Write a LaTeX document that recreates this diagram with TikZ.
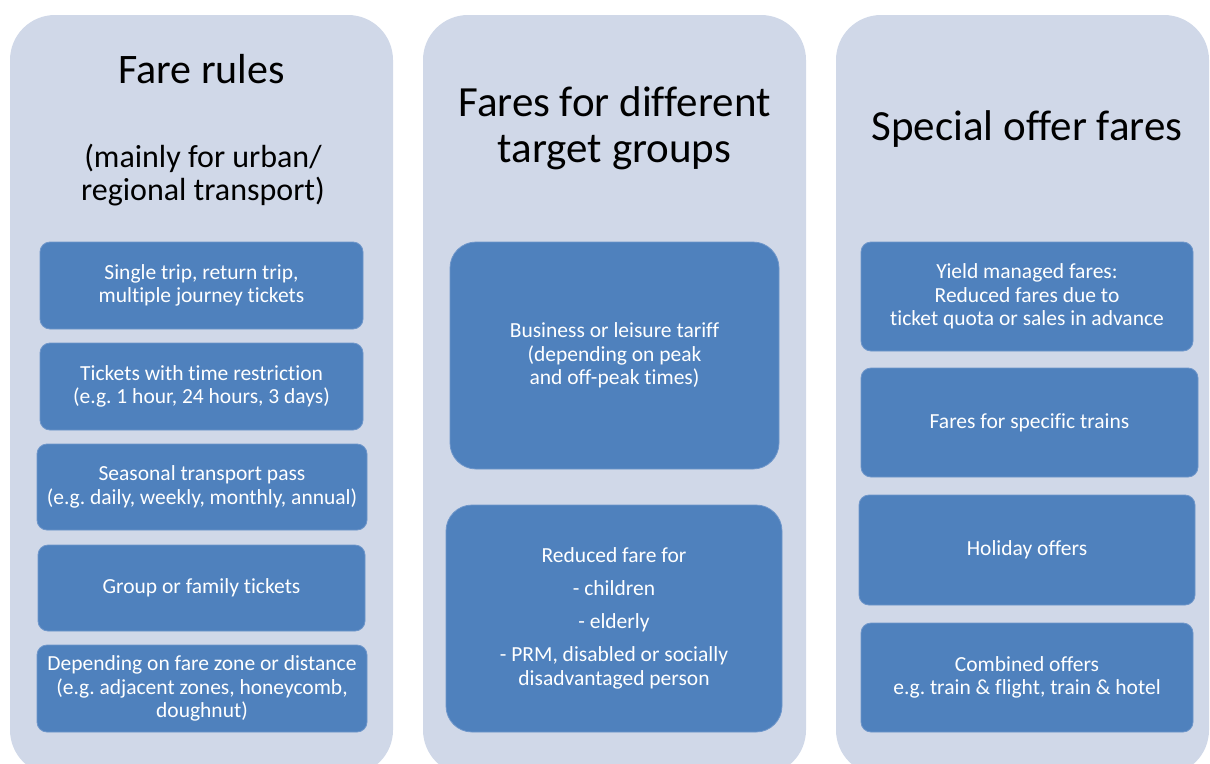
\documentclass[tikz,border=0pt]{standalone}
\usepackage{fontspec}
\setmainfont{Carlito}[Ligatures=NoCommon]
\frenchspacing
\definecolor{colbg}{RGB}{208,216,232}
\definecolor{boxfill}{RGB}{79,129,189}
\definecolor{boxline}{RGB}{110,150,202}
\begin{document}
\begin{tikzpicture}[x=1pt,y=-1pt,
  column/.style={fill=colbg, rounded corners=45pt, inner sep=0pt},
  itembox/.style={rectangle, fill=boxfill, draw=boxline, line width=0.8pt, rounded corners=10pt,
    inner sep=0pt, align=center, text=white, font=\fontsize{21.5}{23.6}\selectfont},
  bigbox/.style={itembox, rounded corners=26pt},
  title/.style={align=center, text=black, inner sep=0pt}
]
\useasboundingbox (0,0) rectangle (1210,763);
\begin{scope}
\clip (0,0) rectangle (1210,763);
\node[column, minimum width=383pt, minimum height=760pt] (c1) at (201.5,395) {};
\node[column, minimum width=383pt, minimum height=760pt] (c2) at (614.5,395) {};
\node[column, minimum width=373pt, minimum height=760pt] (c3) at (1022.5,395) {};
\end{scope}

% titles
\node[title, font=\fontsize{42}{50}\selectfont] (t1) at (201.5,69) {Fare rules};
\node[title, font=\fontsize{32}{33}\selectfont] (t1b) at (203,175.5) {(mainly for urban/\\regional transport)};
\node[title, font=\fontsize{43}{46}\selectfont] (t2) at (614.5,128.5) {Fares for different\\target groups};
\node[title, font=\fontsize{43}{50}\selectfont] (t3) at (1027,129) {Special offer fares};

% left column
\node[itembox, minimum width=323pt, minimum height=87pt] (b1) at (201.5,285.5) {Single trip, return trip,\\multiple journey tickets};
\node[itembox, minimum width=323pt, minimum height=87pt] (b2) at (201.5,386.5) {Tickets with time restriction\\(e.g. 1 hour, 24 hours, 3 days)};
\node[itembox, minimum width=330pt, minimum height=86pt] (b3) at (202,487) {Seasonal transport pass\\(e.g. daily, weekly, monthly, annual)};
\node[itembox, minimum width=327pt, minimum height=86pt] (b4) at (201.5,588) {Group or family tickets};
\node[itembox, minimum width=330pt, minimum height=87pt] (b5) at (202,688.5) {Depending on fare zone or distance\\(e.g. adjacent zones, honeycomb,\\doughnut)};

% middle column
\node[bigbox, minimum width=329pt, minimum height=227pt] (m1) at (614.5,355.5) {Business or leisure tariff\\(depending on peak\\and off-peak times)};
\node[bigbox, minimum width=336pt, minimum height=227pt] (m2) at (614,618.5) {Reduced fare for\\[9.5pt]- children\\[9.5pt]- elderly\\[9.5pt]- PRM, disabled or socially\\disadvantaged person};

% right column
\node[itembox, minimum width=332pt, minimum height=109pt] (r1) at (1027,296.5) {Yield managed fares:\\Reduced fares due to\\ticket quota or sales in advance};
\node[itembox, minimum width=337pt, minimum height=109pt] (r2) at (1029.5,422.5) {Fares for specific trains};
\node[itembox, minimum width=336pt, minimum height=110pt] (r3) at (1027,550) {Holiday offers};
\node[itembox, minimum width=332pt, minimum height=109pt] (r4) at (1027,677.5) {Combined offers\\e.g. train \& flight, train \& hotel};
\end{tikzpicture}
\end{document}
